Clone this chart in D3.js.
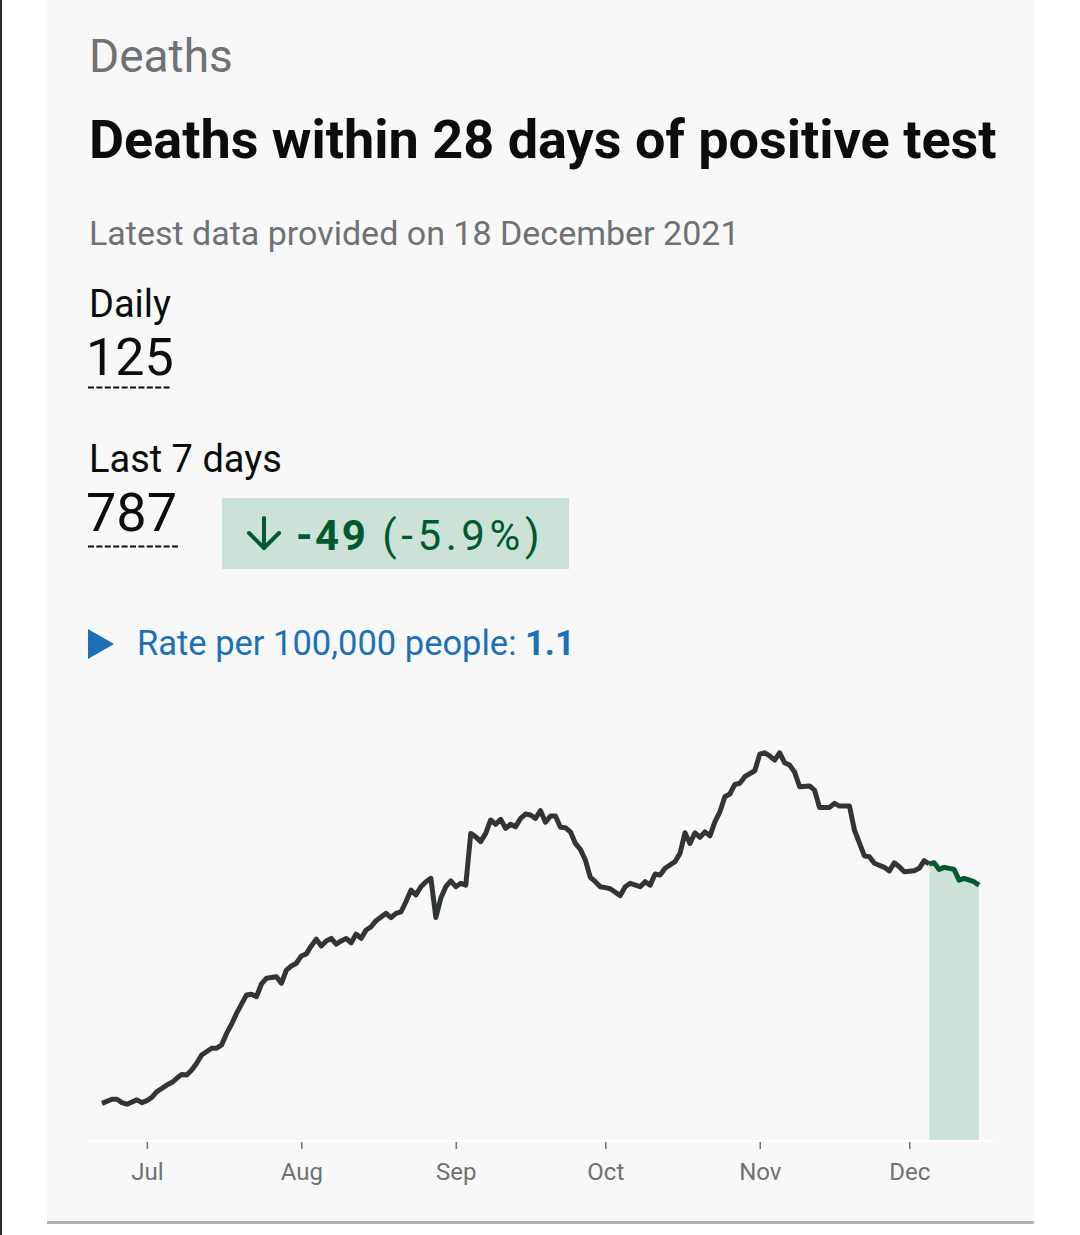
<!DOCTYPE html>
<html>
<head>
<meta charset="utf-8">
<script src="https://cdn.jsdelivr.net/npm/d3@7"></script>
<style>
  html, body { margin: 0; padding: 0; background: #ffffff; }
  svg { display: block; }
</style>
</head>
<body>
<div id="chart"></div>
<script>
const WIDTH = 1080;
const HEIGHT = 1235;
const PLOT = { LEFT: 102, RIGHT: 979, TOP: 730, BOTTOM: 1140 };

// 7-day average of deaths
const dates = [
  "2021-06-22","2021-06-24","2021-06-25","2021-06-26","2021-06-27","2021-06-29","2021-06-30",
  "2021-07-01","2021-07-02","2021-07-03","2021-07-05","2021-07-06","2021-07-07","2021-07-08",
  "2021-07-09","2021-07-10","2021-07-11","2021-07-12","2021-07-14","2021-07-15","2021-07-16",
  "2021-07-17","2021-07-18","2021-07-19","2021-07-21","2021-07-22","2021-07-23","2021-07-24",
  "2021-07-25","2021-07-27","2021-07-28","2021-07-29","2021-07-30","2021-07-31",
  "2021-08-01","2021-08-02","2021-08-03","2021-08-04","2021-08-05","2021-08-06","2021-08-07",
  "2021-08-08","2021-08-09","2021-08-10","2021-08-11","2021-08-12","2021-08-13","2021-08-14",
  "2021-08-15","2021-08-16","2021-08-18","2021-08-19","2021-08-20","2021-08-21","2021-08-22",
  "2021-08-23","2021-08-24","2021-08-25","2021-08-26","2021-08-27","2021-08-28","2021-08-29",
  "2021-08-30","2021-08-31",
  "2021-09-01","2021-09-02","2021-09-03","2021-09-04","2021-09-05","2021-09-06","2021-09-07",
  "2021-09-08","2021-09-09","2021-09-10","2021-09-11","2021-09-12","2021-09-13","2021-09-14",
  "2021-09-15","2021-09-16","2021-09-17","2021-09-18","2021-09-19","2021-09-20","2021-09-21",
  "2021-09-22","2021-09-23","2021-09-24","2021-09-25","2021-09-26","2021-09-27","2021-09-28",
  "2021-09-29","2021-09-30",
  "2021-10-01","2021-10-02","2021-10-04","2021-10-05","2021-10-06","2021-10-08","2021-10-09",
  "2021-10-10","2021-10-11","2021-10-12","2021-10-13","2021-10-15","2021-10-16","2021-10-17",
  "2021-10-18","2021-10-19","2021-10-20","2021-10-21","2021-10-22","2021-10-23","2021-10-24",
  "2021-10-25","2021-10-26","2021-10-27","2021-10-28","2021-10-29","2021-10-31",
  "2021-11-01","2021-11-02","2021-11-03","2021-11-04","2021-11-05","2021-11-06","2021-11-07",
  "2021-11-08","2021-11-09","2021-11-11","2021-11-12","2021-11-13","2021-11-15","2021-11-16",
  "2021-11-17","2021-11-19","2021-11-20","2021-11-22","2021-11-23","2021-11-24","2021-11-26",
  "2021-11-27","2021-11-28","2021-11-29","2021-11-30",
  "2021-12-02","2021-12-03","2021-12-04","2021-12-05","2021-12-06","2021-12-07","2021-12-08",
  "2021-12-10","2021-12-11","2021-12-12","2021-12-14","2021-12-15"
];
const deaths = [
  16.1,17.9,17.9,16.4,15.7,17.6,16.4,
  17.3,18.7,21.2,24.1,25.2,27.1,28.8,
  28.5,30.7,33.7,37.3,40.3,40.3,41.7,
  46.8,50.8,55.6,63.7,64.0,62.9,68.5,
  71.0,71.7,68.8,74.6,76.4,77.6,
  80.8,81.7,85.2,88.2,85.2,87.4,88.5,
  86.0,87.4,88.5,86.6,90.4,88.5,92.2,
  93.6,96.3,99.5,97.6,99.5,100.2,104.6,
  109.7,107.6,111.2,113.4,114.9,97.7,106.2,
  111.2,113.8,
  111.2,112.7,111.9,134.6,133.1,131.0,134.6,
  140.5,138.6,140.8,136.8,138.6,137.5,141.2,
  143.1,142.7,141.2,144.6,139.5,142.2,142.2,
  137.3,137.1,135.3,130.2,127.6,122.9,115.3,
  113.4,111.2,
  110.8,110.3,107.3,111.2,112.7,111.2,113.4,
  111.9,116.8,116.3,119.3,122.2,125.9,134.9,
  130.2,134.9,132.9,135.3,133.5,139.7,144.1,
  150.7,151.9,156.1,156.6,159.5,162.1,
  169.4,170.0,168.6,166.8,170.0,165.6,164.6,
  161.5,155.1,155.4,153.6,146.0,146.0,147.8,
  146.6,146.6,136.1,124.7,124.4,121.5,119.7,
  118.1,121.7,120.0,117.8,
  118.2,119.3,122.6,121.2,121.7,118.8,119.7,
  118.8,114.1,114.9,113.4,111.9
];
const recentStart = "2021-12-05";

const tickDates = ["2021-07-01","2021-08-01","2021-09-01","2021-10-01","2021-11-01","2021-12-01"];
const tickLabels = ["Jul","Aug","Sep","Oct","Nov","Dec"];

const heading = "Deaths";
const title = "Deaths within 28 days of positive test";
const subtitle = "Latest data provided on 18 December 2021";
const dailyLabel = "Daily";
const dailyValue = "125";
const weekLabel = "Last 7 days";
const weekValue = "787";
const changeValue = "-49";
const changePct = "(-5.9%)";
const rateText = "Rate per 100,000 people: ";
const rateValue = "1.1";

const parse = d3.utcParse("%Y-%m-%d");
const data = dates.map((d, i) => ({ date: parse(d), value: deaths[i] }));
const cut = parse(recentStart);
const older = data.filter(d => d.date <= cut);
const recent = data.filter(d => d.date >= cut);

var svg = d3.select("div#chart").append("svg")
    .attr("width", WIDTH)
    .attr("height", HEIGHT);

// page edge + card
svg.append("rect").attr("x", 0).attr("y", 0).attr("width", 2).attr("height", HEIGHT).attr("fill", "#2b2b2b");
svg.append("rect").attr("x", 47).attr("y", 0).attr("width", 987).attr("height", 1222).attr("fill", "#f8f8f8");
svg.append("rect").attr("x", 47).attr("y", 1221).attr("width", 987).attr("height", 3).attr("fill", "#b4b4b4");

const FONT = "Roboto, 'Noto Sans', sans-serif";

svg.append("text").attr("x", 89).attr("y", 72)
    .attr("font-family", FONT).attr("font-size", 46).attr("fill", "#6f7173")
    .text(heading);

svg.append("text").attr("x", 89).attr("y", 158)
    .attr("font-family", FONT).attr("font-size", 54).attr("font-weight", 700).attr("fill", "#0b0c0c")
    .text(title);

svg.append("text").attr("x", 89).attr("y", 245)
    .attr("font-family", FONT).attr("font-size", 34).attr("fill", "#6f7173")
    .text(subtitle);

// headline numbers
svg.append("text").attr("x", 89).attr("y", 317)
    .attr("font-family", FONT).attr("font-size", 38).attr("fill", "#0b0c0c")
    .text(dailyLabel);
svg.append("text").attr("x", 86).attr("y", 375)
    .attr("font-family", FONT).attr("font-size", 52).attr("fill", "#0b0c0c")
    .text(dailyValue);
svg.append("line").attr("x1", 88).attr("x2", 171).attr("y1", 387.5).attr("y2", 387.5)
    .attr("stroke", "#0b0c0c").attr("stroke-width", 2).attr("stroke-dasharray", "6,2.4");

svg.append("text").attr("x", 89).attr("y", 472)
    .attr("font-family", FONT).attr("font-size", 38).attr("fill", "#0b0c0c")
    .text(weekLabel);
svg.append("text").attr("x", 86).attr("y", 531)
    .attr("font-family", FONT).attr("font-size", 54).attr("fill", "#0b0c0c")
    .text(weekValue);
svg.append("line").attr("x1", 88).attr("x2", 178).attr("y1", 546.5).attr("y2", 546.5)
    .attr("stroke", "#0b0c0c").attr("stroke-width", 2).attr("stroke-dasharray", "6,2.4");

// change badge
svg.append("rect").attr("x", 222).attr("y", 498).attr("width", 347).attr("height", 71).attr("fill", "#cce2d8");
var arrow = svg.append("g").attr("stroke", "#005a30").attr("stroke-width", 4).attr("fill", "none")
    .attr("stroke-linecap", "round").attr("stroke-linejoin", "round");
arrow.append("line").attr("x1", 264).attr("x2", 264).attr("y1", 518).attr("y2", 548);
arrow.append("polyline").attr("points", "249,533 264,548 279,533");
var badge = svg.append("text").attr("x", 296).attr("y", 550)
    .attr("font-family", FONT).attr("font-size", 42).attr("fill", "#005a30")
    .attr("letter-spacing", 2.5);
badge.append("tspan").attr("font-weight", 700).text(changeValue);
badge.append("tspan").attr("dx", 14).attr("letter-spacing", 4.6).text(changePct);

// rate disclosure
svg.append("path").attr("d", "M88,629 L114,644 L88,659 Z").attr("fill", "#1d70b8");
var rate = svg.append("text").attr("x", 137).attr("y", 655)
    .attr("font-family", FONT).attr("font-size", 34.5).attr("fill", "#1d70b8")
    .text(rateText);
rate.append("tspan").attr("font-weight", 700).text(rateValue);

// sparkline
var x = d3.scaleUtc([data[0].date, data[data.length - 1].date], [PLOT.LEFT, PLOT.RIGHT]);
var y = d3.scaleLinear([0, 180], [PLOT.BOTTOM, PLOT.TOP]);

svg.append("line").attr("x1", 88).attr("x2", 995).attr("y1", PLOT.BOTTOM + 1).attr("y2", PLOT.BOTTOM + 1)
    .attr("stroke", "#ffffff").attr("stroke-width", 2);

const areaFunc = d3.area()
    .x(d => x(d.date))
    .y0(y(0))
    .y1(d => y(d.value));

const lineFunc = d3.line()
    .x(d => x(d.date))
    .y(d => y(d.value));

svg.append("path").attr("class", "recent-area")
    .attr("d", areaFunc(recent))
    .attr("fill", "#cce2d8");

svg.append("path").attr("class", "older")
    .attr("d", lineFunc(older))
    .attr("fill", "none").attr("stroke", "#313537").attr("stroke-width", 5)
    .attr("stroke-linejoin", "round");

svg.append("path").attr("class", "recent")
    .attr("d", lineFunc(recent))
    .attr("fill", "none").attr("stroke", "#005a30").attr("stroke-width", 5)
    .attr("stroke-linejoin", "round");

var xAxis = svg.append("g").attr("class", "x-axis")
    .attr("transform", `translate(0,${PLOT.BOTTOM + 2})`)
    .call(d3.axisBottom(x)
        .tickValues(tickDates.map(parse))
        .tickFormat((d, i) => tickLabels[i])
        .tickSize(7)
        .tickPadding(14));
xAxis.select(".domain").remove();
xAxis.selectAll(".tick line").attr("stroke", "#6f7173").attr("stroke-width", 1.5);
xAxis.selectAll(".tick text")
    .attr("font-family", FONT).attr("font-size", 24).attr("fill", "#6f7173");
</script>
</body>
</html>
